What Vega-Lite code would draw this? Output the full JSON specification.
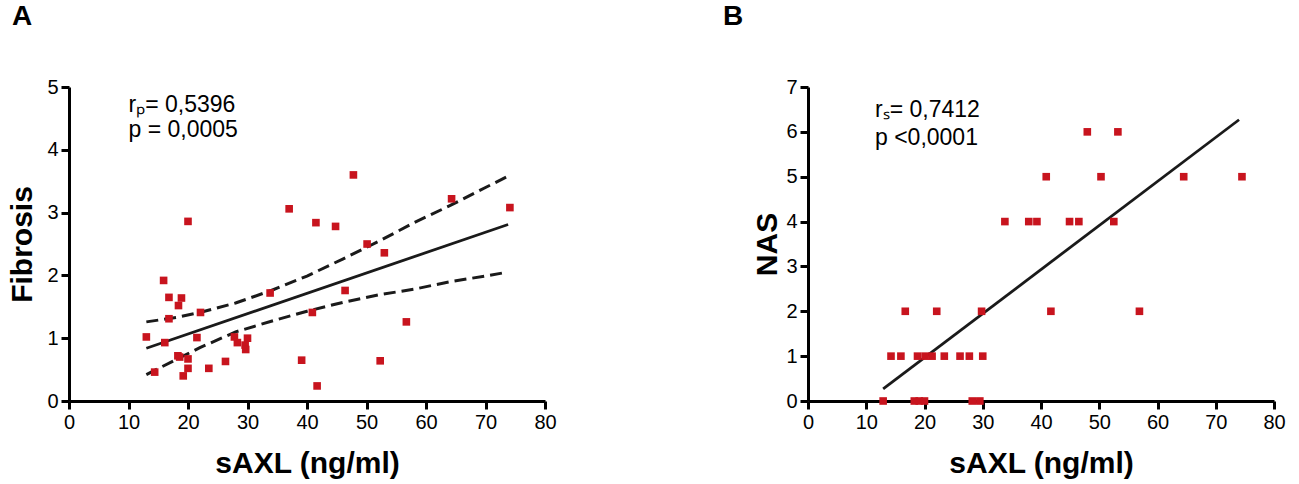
{
  "$schema": "https://vega.github.io/schema/vega-lite/v6.json",
  "padding": {"left": 7, "top": 3, "right": 5, "bottom": 5},
  "background": "white",
  "spacing": 263,
  "bounds": "flush",
  "datasets": {
    "fib": [
      {"sAXL": 13.0, "Fibrosis": 1.02}, {"sAXL": 14.4, "Fibrosis": 0.46},
      {"sAXL": 15.9, "Fibrosis": 1.92}, {"sAXL": 16.1, "Fibrosis": 0.93},
      {"sAXL": 16.8, "Fibrosis": 1.65}, {"sAXL": 16.8, "Fibrosis": 1.31},
      {"sAXL": 18.4, "Fibrosis": 1.52}, {"sAXL": 18.9, "Fibrosis": 1.64},
      {"sAXL": 18.3, "Fibrosis": 0.72}, {"sAXL": 18.6, "Fibrosis": 0.70},
      {"sAXL": 20.0, "Fibrosis": 2.86}, {"sAXL": 20.0, "Fibrosis": 0.67},
      {"sAXL": 20.0, "Fibrosis": 0.52}, {"sAXL": 19.2, "Fibrosis": 0.40},
      {"sAXL": 21.5, "Fibrosis": 1.01}, {"sAXL": 22.1, "Fibrosis": 1.41},
      {"sAXL": 23.5, "Fibrosis": 0.52}, {"sAXL": 26.3, "Fibrosis": 0.63},
      {"sAXL": 27.8, "Fibrosis": 1.02}, {"sAXL": 28.3, "Fibrosis": 0.93},
      {"sAXL": 30.0, "Fibrosis": 1.00}, {"sAXL": 29.6, "Fibrosis": 0.89},
      {"sAXL": 29.7, "Fibrosis": 0.82}, {"sAXL": 33.8, "Fibrosis": 1.72},
      {"sAXL": 37.0, "Fibrosis": 3.06}, {"sAXL": 40.9, "Fibrosis": 1.41},
      {"sAXL": 39.1, "Fibrosis": 0.65}, {"sAXL": 41.5, "Fibrosis": 2.84},
      {"sAXL": 41.7, "Fibrosis": 0.24}, {"sAXL": 47.8, "Fibrosis": 3.60},
      {"sAXL": 44.8, "Fibrosis": 2.78}, {"sAXL": 50.1, "Fibrosis": 2.50},
      {"sAXL": 53.0, "Fibrosis": 2.36}, {"sAXL": 46.4, "Fibrosis": 1.76},
      {"sAXL": 56.7, "Fibrosis": 1.26}, {"sAXL": 52.3, "Fibrosis": 0.64},
      {"sAXL": 64.3, "Fibrosis": 3.22}, {"sAXL": 74.1, "Fibrosis": 3.08}
    ],
    "fitA": [
      {"sAXL": 13.0, "Fibrosis": 0.84}, {"sAXL": 73.8, "Fibrosis": 2.81}
    ],
    "bandA": [
      {"sAXL": 13.0, "bound": "upper", "Fibrosis": 1.26}, {"sAXL": 18, "bound": "upper", "Fibrosis": 1.33},
      {"sAXL": 22, "bound": "upper", "Fibrosis": 1.41}, {"sAXL": 28, "bound": "upper", "Fibrosis": 1.56},
      {"sAXL": 34, "bound": "upper", "Fibrosis": 1.76}, {"sAXL": 40, "bound": "upper", "Fibrosis": 1.99},
      {"sAXL": 46, "bound": "upper", "Fibrosis": 2.26}, {"sAXL": 52, "bound": "upper", "Fibrosis": 2.54},
      {"sAXL": 58, "bound": "upper", "Fibrosis": 2.84}, {"sAXL": 64, "bound": "upper", "Fibrosis": 3.11},
      {"sAXL": 70, "bound": "upper", "Fibrosis": 3.40}, {"sAXL": 73.8, "bound": "upper", "Fibrosis": 3.58},
      {"sAXL": 13.0, "bound": "lower", "Fibrosis": 0.42}, {"sAXL": 18, "bound": "lower", "Fibrosis": 0.66},
      {"sAXL": 22, "bound": "lower", "Fibrosis": 0.85}, {"sAXL": 28, "bound": "lower", "Fibrosis": 1.10},
      {"sAXL": 34, "bound": "lower", "Fibrosis": 1.27}, {"sAXL": 40, "bound": "lower", "Fibrosis": 1.43},
      {"sAXL": 46, "bound": "lower", "Fibrosis": 1.57}, {"sAXL": 52, "bound": "lower", "Fibrosis": 1.69},
      {"sAXL": 58, "bound": "lower", "Fibrosis": 1.78}, {"sAXL": 64, "bound": "lower", "Fibrosis": 1.90},
      {"sAXL": 70, "bound": "lower", "Fibrosis": 1.99}, {"sAXL": 73.0, "bound": "lower", "Fibrosis": 2.04}
    ],
    "statsA": [
      {"sAXL": 10, "Fibrosis": 4.6, "label": "rₚ= 0,5396"},
      {"sAXL": 10, "Fibrosis": 4.2, "label": "p = 0,0005"}
    ],
    "nas": [
      {"sAXL": 12.9, "NAS": 0}, {"sAXL": 18.25, "NAS": 0}, {"sAXL": 19.1, "NAS": 0},
      {"sAXL": 20.0, "NAS": 0}, {"sAXL": 28.2, "NAS": 0}, {"sAXL": 29.5, "NAS": 0},
      {"sAXL": 14.25, "NAS": 1}, {"sAXL": 15.95, "NAS": 1}, {"sAXL": 18.8, "NAS": 1},
      {"sAXL": 20.1, "NAS": 1}, {"sAXL": 21.3, "NAS": 1}, {"sAXL": 23.4, "NAS": 1},
      {"sAXL": 26.1, "NAS": 1}, {"sAXL": 27.7, "NAS": 1}, {"sAXL": 30.0, "NAS": 1},
      {"sAXL": 16.7, "NAS": 2}, {"sAXL": 22.1, "NAS": 2}, {"sAXL": 29.8, "NAS": 2},
      {"sAXL": 41.7, "NAS": 2}, {"sAXL": 56.9, "NAS": 2},
      {"sAXL": 33.8, "NAS": 4}, {"sAXL": 37.9, "NAS": 4}, {"sAXL": 39.3, "NAS": 4},
      {"sAXL": 44.9, "NAS": 4}, {"sAXL": 46.5, "NAS": 4}, {"sAXL": 52.5, "NAS": 4},
      {"sAXL": 40.9, "NAS": 5}, {"sAXL": 50.3, "NAS": 5}, {"sAXL": 64.5, "NAS": 5},
      {"sAXL": 74.5, "NAS": 5},
      {"sAXL": 47.95, "NAS": 6}, {"sAXL": 53.2, "NAS": 6}
    ],
    "fitB": [
      {"sAXL": 12.9, "NAS": 0.27}, {"sAXL": 74.0, "NAS": 6.27}
    ],
    "statsB": [
      {"sAXL": 11.5, "NAS": 6.33, "label": "rₛ= 0,7412"},
      {"sAXL": 11.5, "NAS": 5.7, "label": "p <0,0001"}
    ]
  },
  "hconcat": [
    {
      "width": 476,
      "height": 314,
      "title": {"text": "A", "anchor": "start", "frame": "group", "dx": -57, "offset": 46},
      "layer": [
        {
          "data": {"name": "bandA"},
          "mark": {"type": "line", "color": "#1a1a1a", "strokeWidth": 3, "strokeDash": [12, 6]},
          "encoding": {
            "x": {"field": "sAXL", "type": "quantitative", "scale": {"domain": [0, 80], "nice": false},
                  "axis": {"values": [0, 10, 20, 30, 40, 50, 60, 70, 80], "format": "d", "title": "sAXL (ng/ml)"}},
            "y": {"field": "Fibrosis", "type": "quantitative", "scale": {"domain": [0, 5], "nice": false},
                  "axis": {"values": [0, 1, 2, 3, 4, 5], "format": "d", "title": "Fibrosis", "titlePadding": 9}},
            "detail": {"field": "bound"}
          }
        },
        {
          "data": {"name": "fitA"},
          "mark": {"type": "line", "color": "#1a1a1a", "strokeWidth": 2.8},
          "encoding": {
            "x": {"field": "sAXL", "type": "quantitative"},
            "y": {"field": "Fibrosis", "type": "quantitative"}
          }
        },
        {
          "data": {"name": "fib"},
          "mark": {"type": "point", "shape": "square", "filled": true, "size": 58, "color": "#c8141e", "opacity": 1},
          "encoding": {
            "x": {"field": "sAXL", "type": "quantitative"},
            "y": {"field": "Fibrosis", "type": "quantitative"}
          }
        },
        {
          "data": {"name": "statsA"},
          "mark": {"type": "text", "align": "left", "baseline": "alphabetic", "fontSize": 23, "font": "Liberation Sans", "color": "black"},
          "encoding": {
            "x": {"field": "sAXL", "type": "quantitative"},
            "y": {"field": "Fibrosis", "type": "quantitative"},
            "text": {"field": "label"}
          }
        }
      ]
    },
    {
      "width": 466,
      "height": 314,
      "title": {"text": "B", "anchor": "start", "frame": "group", "dx": -85, "offset": 46},
      "layer": [
        {
          "data": {"name": "fitB"},
          "mark": {"type": "line", "color": "#1a1a1a", "strokeWidth": 2.8},
          "encoding": {
            "x": {"field": "sAXL", "type": "quantitative", "scale": {"domain": [0, 80], "nice": false},
                  "axis": {"values": [0, 10, 20, 30, 40, 50, 60, 70, 80], "format": "d", "title": "sAXL (ng/ml)"}},
            "y": {"field": "NAS", "type": "quantitative", "scale": {"domain": [0, 7], "nice": false},
                  "axis": {"values": [0, 1, 2, 3, 4, 5, 6, 7], "format": "d", "title": "NAS", "titlePadding": 3}}
          }
        },
        {
          "data": {"name": "nas"},
          "mark": {"type": "point", "shape": "square", "filled": true, "size": 58, "color": "#c8141e", "opacity": 1},
          "encoding": {
            "x": {"field": "sAXL", "type": "quantitative"},
            "y": {"field": "NAS", "type": "quantitative"}
          }
        },
        {
          "data": {"name": "statsB"},
          "mark": {"type": "text", "align": "left", "baseline": "alphabetic", "fontSize": 23, "font": "Liberation Sans", "color": "black"},
          "encoding": {
            "x": {"field": "sAXL", "type": "quantitative"},
            "y": {"field": "NAS", "type": "quantitative"},
            "text": {"field": "label"}
          }
        }
      ]
    }
  ],
  "config": {
    "view": {"stroke": null},
    "title": {"font": "Liberation Sans", "fontSize": 28, "fontWeight": "bold", "color": "black"},
    "axis": {
      "grid": false,
      "domainColor": "black",
      "domainWidth": 3,
      "tickColor": "black",
      "tickWidth": 3,
      "tickSize": 8,
      "labelFont": "Liberation Sans",
      "labelFontSize": 20,
      "labelColor": "black",
      "labelPadding": 3,
      "titleFont": "Liberation Sans",
      "titleFontSize": 30,
      "titleFontWeight": "bold",
      "titleColor": "black"
    },
    "axisX": {"titlePadding": 16, "labelFlush": false}
  }
}
